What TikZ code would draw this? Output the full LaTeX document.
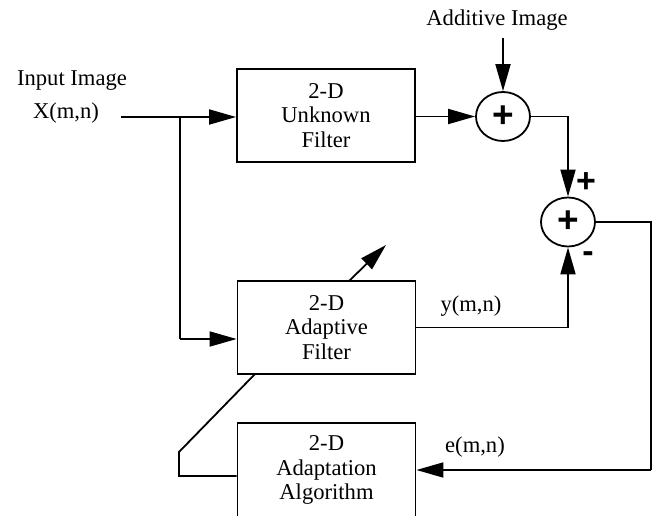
\documentclass[tikz,border=0pt]{standalone}
\usepackage{fontspec}
\setmainfont{Liberation Serif}
\newfontfamily\sumfont{Liberation Sans}
\usetikzlibrary{arrows.meta,shapes.geometric}
\tikzset{
  lbl/.style={font=\fontsize{22.6}{24.5}\selectfont, inner sep=0pt},
  blk/.style={draw, line width=1.8pt, minimum width=178pt, inner sep=0pt, align=center,
              font=\fontsize{22.6}{24.5}\selectfont},
  sumnode/.style={draw, ellipse, line width=1.8pt, minimum width=54pt, minimum height=49pt,
              inner sep=0pt, font=\sumfont\bfseries\fontsize{37}{37}\selectfont},
  sgn/.style={inner sep=0pt, font=\sumfont\bfseries\fontsize{34}{34}\selectfont},
  wire/.style={line width=1.8pt},
  arr/.style={line width=1.8pt, -{Triangle[length=27pt,width=15pt]}},
}
\begin{document}
\begin{tikzpicture}[x=1pt,y=-1pt]
\useasboundingbox (0,0) rectangle (665,516);
\clip (0,0) rectangle (665,516);
% labels
\node[lbl, anchor=base] (tin) at (72,86) {Input Image};
\node[lbl, anchor=base] (tx) at (66,119) {X(m,n)};
\node[lbl, anchor=base] (tadd) at (497,26) {Additive Image};
\node[lbl, anchor=base] (ty) at (471,312) {y(m,n)};
\node[lbl, anchor=base] (te) at (475,452) {e(m,n)};
% blocks
\node[blk, minimum height=93pt] (unk) at (326,115.5) {2-D\\Unknown\\Filter};
\node[blk, minimum height=93pt] (adf) at (326.5,327.5) {2-D\\Adaptive\\Filter};
\node[blk, minimum height=94pt] (ada) at (326.5,470) {2-D\\Adaptation\\Algorithm};
% summers
\node[sumnode] (s1) at (503,116.5) {+};
\node[sumnode] (s2) at (568,222) {+};
\node[sgn] (pl) at (586,183) {+};
\node[sgn] (mi) at (588,257) {-};
% coordinates
\coordinate (in) at (121,117);
\coordinate (j) at (180,117);
\coordinate (j2) at (180,339);
\coordinate (addin) at (503,38);
\coordinate (r1) at (651,222);
\coordinate (r2) at (651,470);
\coordinate (fb) at (179,476);
\coordinate (fb2) at (179,452);
\coordinate (fb3) at (255,374);
\coordinate (d1) at (349,281);
\coordinate (d2) at (386,245);
% connectors
\draw[arr] (in) -- (in -| unk.west);
\draw[wire] (j) -- (j2);
\draw[arr] (j2) -- (j2 -| adf.west);
\draw[arr] (unk.east |- s1) -- (s1.west);
\draw[arr] (addin) -- (s1.north);
\draw[arr] (s1.east) -| (s2.north);
\draw[arr] (adf.east) -| (s2.south);
\draw[wire] (s2.east) -- (r1) -- (r2);
\draw[arr] (r2) -- (ada.east |- r2);
\draw[wire] (ada.west |- fb) -- (fb) -- (fb2) -- (fb3);
\draw[arr] (d1) -- (d2);
\end{tikzpicture}
\end{document}
